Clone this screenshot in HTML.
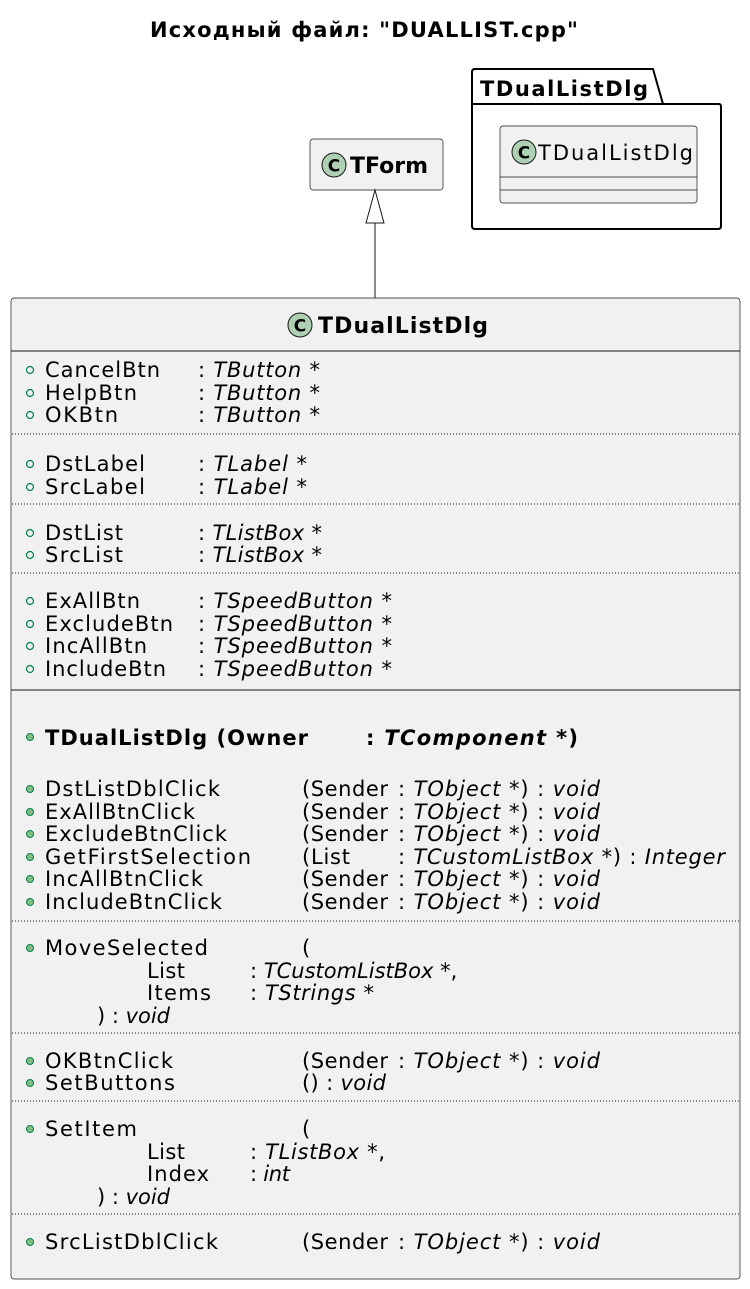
<!DOCTYPE html>
<html><head><meta charset="utf-8"><style>
html,body{margin:0;padding:0;background:#fff;}
svg{display:block;}
text{font-family:"DejaVu Sans","Liberation Sans",sans-serif;font-size:21px;fill:#000;}
.i{font-style:italic;}
.b{font-weight:bold;}
</style></head><body>
<svg width="750" height="1289" viewBox="0 0 750 1289" xmlns="http://www.w3.org/2000/svg">
<text x="150" y="37" class="b" style="font-size:21px" textLength="428" lengthAdjust="spacing">Исходный файл: "DUALLIST.cpp"</text>

<!-- package -->
<path d="M472,104 L472,72 Q472,69 475,69 L653,69 L663,104 L719,104 Q721,104 721,107 L721,226 Q721,229 718,229 L475,229 Q472,229 472,226 Z" fill="#fff" stroke="#000" stroke-width="2"/>
<line x1="472" y1="104" x2="663" y2="104" stroke="#000" stroke-width="2"/>
<text x="480" y="96" class="b" textLength="168" lengthAdjust="spacing">TDualListDlg</text>
<rect x="500" y="126" width="197" height="77" rx="3" fill="#f1f1f1" stroke="#181818" stroke-width="0.7"/>
<line x1="500" y1="177" x2="697" y2="177" stroke="#181818" stroke-width="0.7"/>
<line x1="500" y1="190" x2="697" y2="190" stroke="#181818" stroke-width="0.7"/>
<circle cx="524" cy="152" r="12" fill="#add1b2" stroke="#181818" stroke-width="1"/>
<text x="524" y="158.5" text-anchor="middle" class="b" style="font-size:17px">C</text>
<text x="538" y="160" textLength="155" lengthAdjust="spacing">TDualListDlg</text>

<!-- TForm -->
<rect x="310" y="139" width="133" height="51" rx="3" fill="#f1f1f1" stroke="#181818" stroke-width="0.7"/>
<circle cx="334" cy="165" r="12" fill="#add1b2" stroke="#181818" stroke-width="1"/>
<text x="334" y="171.5" text-anchor="middle" class="b" style="font-size:17px">C</text>
<text x="350" y="173" class="b" style="font-size:22px">TForm</text>

<!-- arrow -->
<line x1="375" y1="223" x2="375" y2="298" stroke="#181818" stroke-width="1"/>
<polygon points="375,190 366,223 384,223" fill="#fff" stroke="#181818" stroke-width="1"/>

<!-- main -->
<rect x="11" y="298" width="729" height="981" rx="3" fill="#f1f1f1" stroke="#181818" stroke-width="0.7"/>
<line x1="11" y1="351" x2="740" y2="351" stroke="#181818" stroke-width="1"/>
<circle cx="300" cy="325" r="12" fill="#add1b2" stroke="#181818" stroke-width="1"/>
<text x="300" y="331.5" text-anchor="middle" class="b" style="font-size:17px">C</text>
<text x="318" y="333" class="b" style="font-size:22px" textLength="170" lengthAdjust="spacing">TDualListDlg</text>

<g fill="none" stroke="#038048" stroke-width="1.2">
<circle cx="30" cy="370" r="3.5"/><circle cx="30" cy="393" r="3.5"/><circle cx="30" cy="415" r="3.5"/>
<circle cx="30" cy="464" r="3.5"/><circle cx="30" cy="487" r="3.5"/>
<circle cx="30" cy="533" r="3.5"/><circle cx="30" cy="555" r="3.5"/>
<circle cx="30" cy="601" r="3.5"/><circle cx="30" cy="624" r="3.5"/><circle cx="30" cy="646" r="3.5"/><circle cx="30" cy="669" r="3.5"/>
</g>
<g fill="#84be84" stroke="#038048" stroke-width="1">
<circle cx="30" cy="737" r="3.5"/>
<circle cx="30" cy="789" r="3.5"/><circle cx="30" cy="812" r="3.5"/><circle cx="30" cy="834" r="3.5"/><circle cx="30" cy="857" r="3.5"/><circle cx="30" cy="879" r="3.5"/><circle cx="30" cy="902" r="3.5"/>
<circle cx="30" cy="948" r="3.5"/>
<circle cx="30" cy="1061" r="3.5"/><circle cx="30" cy="1083" r="3.5"/>
<circle cx="30" cy="1129" r="3.5"/>
<circle cx="30" cy="1242" r="3.5"/>
</g>

<g stroke="#181818" stroke-width="1" stroke-dasharray="1,2">
<line x1="12" y1="434" x2="739" y2="434"/>
<line x1="12" y1="504" x2="739" y2="504"/>
<line x1="12" y1="573" x2="739" y2="573"/>
<line x1="12" y1="921" x2="739" y2="921"/>
<line x1="12" y1="1033" x2="739" y2="1033"/>
<line x1="12" y1="1101" x2="739" y2="1101"/>
<line x1="12" y1="1214" x2="739" y2="1214"/>
</g>
<line x1="11" y1="690" x2="740" y2="690" stroke="#181818" stroke-width="1"/>

<text x="45" y="377" textLength="115" lengthAdjust="spacing">CancelBtn</text><text x="198" y="377" textLength="122" lengthAdjust="spacing">: <tspan class="i">TButton</tspan> *</text>
<text x="45" y="400" textLength="92" lengthAdjust="spacing">HelpBtn</text><text x="198" y="400" textLength="122" lengthAdjust="spacing">: <tspan class="i">TButton</tspan> *</text>
<text x="45" y="422" textLength="73" lengthAdjust="spacing">OKBtn</text><text x="198" y="422" textLength="122" lengthAdjust="spacing">: <tspan class="i">TButton</tspan> *</text>
<text x="45" y="471" textLength="100" lengthAdjust="spacing">DstLabel</text><text x="198" y="471" textLength="109" lengthAdjust="spacing">: <tspan class="i">TLabel</tspan> *</text>
<text x="45" y="494" textLength="100" lengthAdjust="spacing">SrcLabel</text><text x="198" y="494" textLength="109" lengthAdjust="spacing">: <tspan class="i">TLabel</tspan> *</text>
<text x="45" y="540" textLength="78" lengthAdjust="spacing">DstList</text><text x="198" y="540" textLength="124" lengthAdjust="spacing">: <tspan class="i">TListBox</tspan> *</text>
<text x="45" y="562" textLength="78" lengthAdjust="spacing">SrcList</text><text x="198" y="562" textLength="124" lengthAdjust="spacing">: <tspan class="i">TListBox</tspan> *</text>
<text x="45" y="608" textLength="95" lengthAdjust="spacing">ExAllBtn</text><text x="198" y="608" textLength="194" lengthAdjust="spacing">: <tspan class="i">TSpeedButton</tspan> *</text>
<text x="45" y="631" textLength="128" lengthAdjust="spacing">ExcludeBtn</text><text x="198" y="631" textLength="194" lengthAdjust="spacing">: <tspan class="i">TSpeedButton</tspan> *</text>
<text x="45" y="653" textLength="102" lengthAdjust="spacing">IncAllBtn</text><text x="198" y="653" textLength="194" lengthAdjust="spacing">: <tspan class="i">TSpeedButton</tspan> *</text>
<text x="45" y="676" textLength="121" lengthAdjust="spacing">IncludeBtn</text><text x="198" y="676" textLength="194" lengthAdjust="spacing">: <tspan class="i">TSpeedButton</tspan> *</text>

<text x="45" y="745" class="b" textLength="263" lengthAdjust="spacing">TDualListDlg (Owner</text><text x="366" y="745" class="b" textLength="212" lengthAdjust="spacing">: <tspan class="i">TComponent</tspan> *)</text>

<text x="45" y="796" textLength="175" lengthAdjust="spacing">DstListDblClick</text><text x="302" y="796" textLength="86" lengthAdjust="spacing">(Sender</text><text x="398" y="796" textLength="202" lengthAdjust="spacing">: <tspan class="i">TObject</tspan> *) : <tspan class="i">void</tspan></text>
<text x="45" y="819" textLength="150" lengthAdjust="spacing">ExAllBtnClick</text><text x="302" y="819" textLength="86" lengthAdjust="spacing">(Sender</text><text x="398" y="819" textLength="202" lengthAdjust="spacing">: <tspan class="i">TObject</tspan> *) : <tspan class="i">void</tspan></text>
<text x="45" y="841" textLength="182" lengthAdjust="spacing">ExcludeBtnClick</text><text x="302" y="841" textLength="86" lengthAdjust="spacing">(Sender</text><text x="398" y="841" textLength="202" lengthAdjust="spacing">: <tspan class="i">TObject</tspan> *) : <tspan class="i">void</tspan></text>
<text x="45" y="864" textLength="206" lengthAdjust="spacing">GetFirstSelection</text><text x="302" y="864" textLength="48" lengthAdjust="spacing">(List</text><text x="398" y="864" textLength="327" lengthAdjust="spacing">: <tspan class="i">TCustomListBox</tspan> *) : <tspan class="i">Integer</tspan></text>
<text x="45" y="886" textLength="158" lengthAdjust="spacing">IncAllBtnClick</text><text x="302" y="886" textLength="86" lengthAdjust="spacing">(Sender</text><text x="398" y="886" textLength="202" lengthAdjust="spacing">: <tspan class="i">TObject</tspan> *) : <tspan class="i">void</tspan></text>
<text x="45" y="909" textLength="177" lengthAdjust="spacing">IncludeBtnClick</text><text x="302" y="909" textLength="86" lengthAdjust="spacing">(Sender</text><text x="398" y="909" textLength="202" lengthAdjust="spacing">: <tspan class="i">TObject</tspan> *) : <tspan class="i">void</tspan></text>

<text x="45" y="955" textLength="163" lengthAdjust="spacing">MoveSelected</text><text x="302" y="955">(</text>
<text x="147" y="978" textLength="38" lengthAdjust="spacing">List</text><text x="250" y="978">: <tspan class="i">TCustomListBox</tspan> *,</text>
<text x="147" y="1000" textLength="64" lengthAdjust="spacing">Items</text><text x="250" y="1000" textLength="124" lengthAdjust="spacing">: <tspan class="i">TStrings</tspan> *</text>
<text x="97" y="1023" textLength="73" lengthAdjust="spacing">) : <tspan class="i">void</tspan></text>

<text x="45" y="1068" textLength="128" lengthAdjust="spacing">OKBtnClick</text><text x="302" y="1068" textLength="86" lengthAdjust="spacing">(Sender</text><text x="398" y="1068" textLength="202" lengthAdjust="spacing">: <tspan class="i">TObject</tspan> *) : <tspan class="i">void</tspan></text>
<text x="45" y="1090" textLength="130" lengthAdjust="spacing">SetButtons</text><text x="302" y="1090" textLength="84" lengthAdjust="spacing">() : <tspan class="i">void</tspan></text>

<text x="45" y="1136" textLength="92" lengthAdjust="spacing">SetItem</text><text x="302" y="1136">(</text>
<text x="147" y="1159" textLength="38" lengthAdjust="spacing">List</text><text x="250" y="1159" textLength="135" lengthAdjust="spacing">: <tspan class="i">TListBox</tspan> *,</text>
<text x="147" y="1181" textLength="62" lengthAdjust="spacing">Index</text><text x="250" y="1181" textLength="40" lengthAdjust="spacing">: <tspan class="i">int</tspan></text>
<text x="97" y="1204" textLength="73" lengthAdjust="spacing">) : <tspan class="i">void</tspan></text>

<text x="45" y="1249" textLength="173" lengthAdjust="spacing">SrcListDblClick</text><text x="302" y="1249" textLength="86" lengthAdjust="spacing">(Sender</text><text x="398" y="1249" textLength="202" lengthAdjust="spacing">: <tspan class="i">TObject</tspan> *) : <tspan class="i">void</tspan></text>
</svg>
</body></html>
